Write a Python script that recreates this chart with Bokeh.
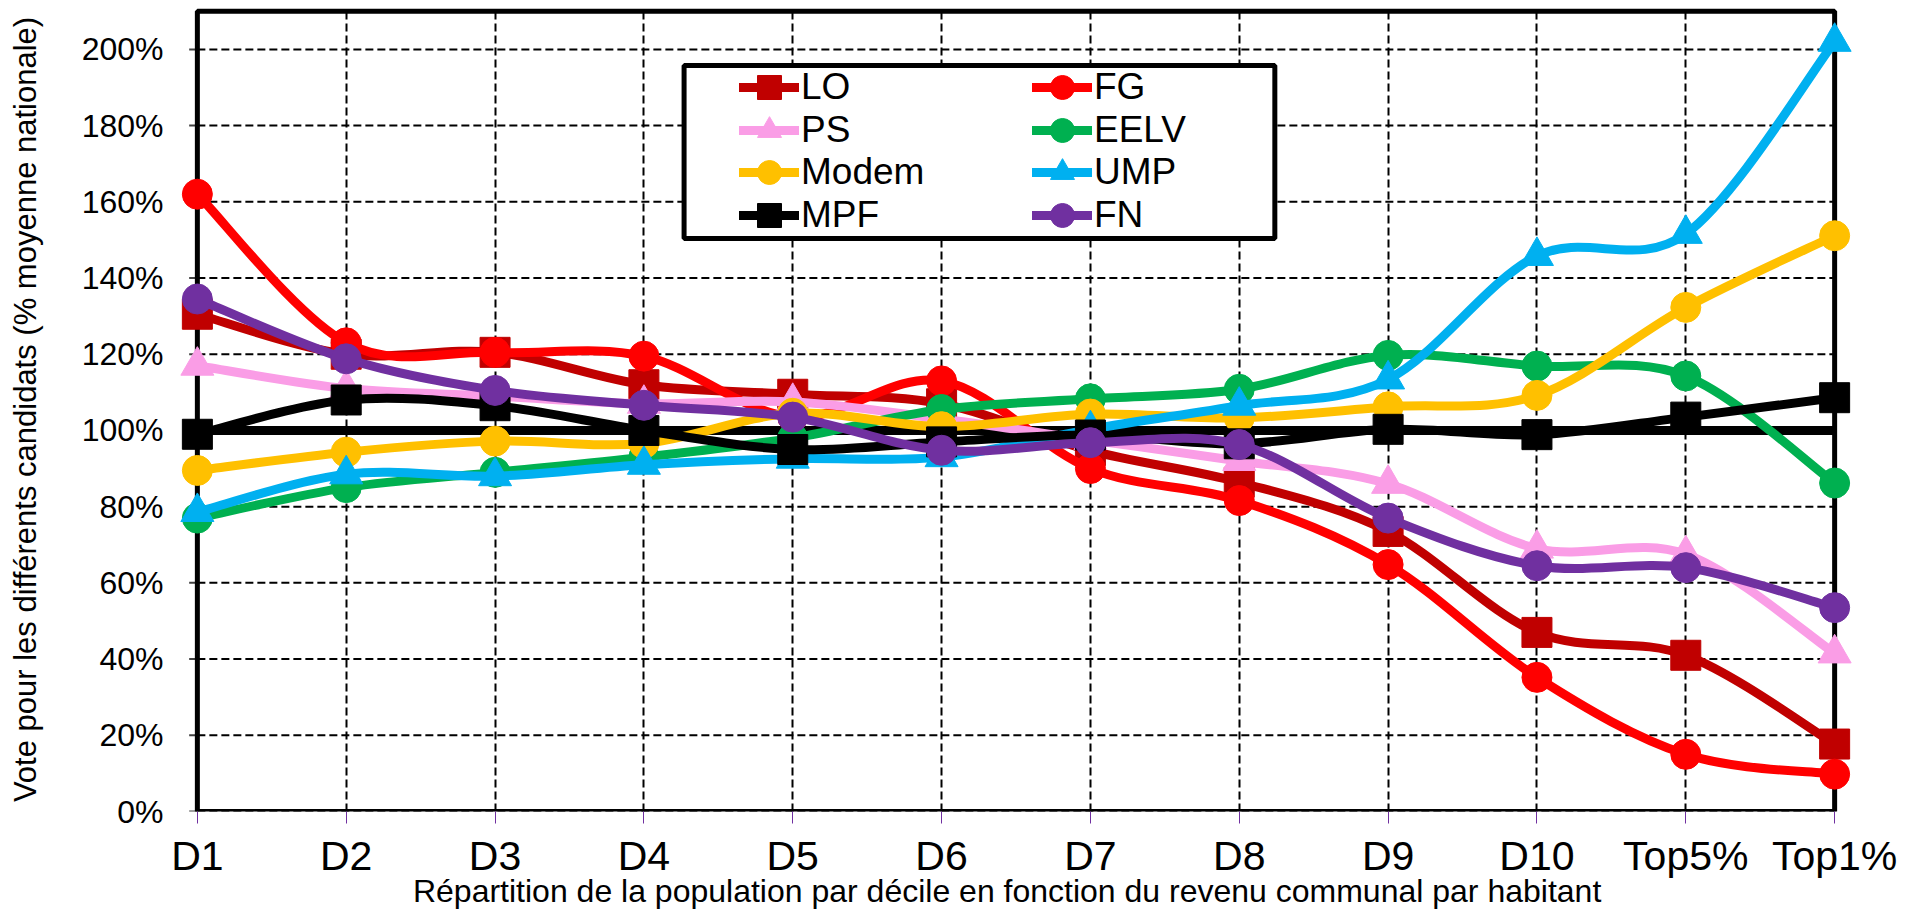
import math
from bokeh.plotting import figure
from bokeh.models import Range1d, FixedTicker, Legend, LegendItem, BoxAnnotation
from bokeh.embed import file_html
from bokeh.resources import INLINE

# ---------------- data ----------------
categories = ["D1", "D2", "D3", "D4", "D5", "D6", "D7", "D8", "D9", "D10", "Top5%", "Top1%"]
y_ticks = [0, 20, 40, 60, 80, 100, 120, 140, 160, 180, 200]
y_tick_labels = ["0%", "20%", "40%", "60%", "80%", "100%", "120%", "140%", "160%", "180%", "200%"]

national_average = [100, 100, 100, 100, 100, 100, 100, 100, 100, 100, 100, 100]
lo = [130.5, 120, 120.5, 112, 109.5, 107, 94.7, 86.4, 73.5, 47, 41, 17.7]
fg = [162, 123, 120.5, 119.5, 103.5, 113, 90, 81.6, 64.8, 35.2, 15, 9.8]
ps = [117, 111, 109, 107, 107.5, 103, 97.5, 92, 86, 69, 67.5, 41.5]
eelv = [77, 85, 89, 93, 98, 105.5, 108.3, 110.8, 119.7, 116.9, 114.3, 86.2]
modem = [89.5, 94.3, 97.2, 96.6, 104.5, 101, 104.3, 103.3, 106.2, 109.2, 132.3, 151.1]
ump = [78.6, 88.5, 88, 91, 92.6, 93, 100.3, 106.5, 113.4, 145.8, 151.6, 202]
mpf = [99, 108, 106.5, 100, 95, 97, 98.8, 96.5, 100.3, 98.9, 103.5, 108.6]
fn = [134.5, 118.8, 110.5, 106.6, 103.5, 94.8, 96.8, 96.3, 77, 64.5, 64, 53.5]

series_names = ["LO", "FG", "PS", "EELV", "Modem", "UMP", "MPF", "FN"]
series_values = [lo, fg, ps, eelv, modem, ump, mpf, fn]
series_colors = ["#C00000", "#FF0000", "#FA9DE6", "#00B050", "#FFC000", "#00B0F0", "#000000", "#7030A0"]
series_markers = ["square", "circle", "triangle", "circle", "circle", "triangle", "square", "circle"]

y_title = "Vote pour les différents candidats (% moyenne nationale)"
x_title = "Répartition de la population par décile en fonction du revenu communal par habitant"

FONT = "Liberation Sans"
NBSP = "\u00a0"
xs = list(range(len(categories)))


def smooth(xv, yv):
    """Bezier control points (Catmull-Rom style smoothing, like Excel's smoothed lines)."""
    n = len(xv)
    c = {k: [] for k in ("x0", "y0", "x1", "y1", "cx0", "cy0", "cx1", "cy1")}
    for i in range(n - 1):
        a = max(i - 1, 0)
        b = min(i + 2, n - 1)
        c["x0"].append(xv[i]); c["y0"].append(yv[i])
        c["x1"].append(xv[i + 1]); c["y1"].append(yv[i + 1])
        c["cx0"].append(xv[i] + (xv[i + 1] - xv[a]) / 6.0)
        c["cy0"].append(yv[i] + (yv[i + 1] - yv[a]) / 6.0)
        c["cx1"].append(xv[i + 1] - (xv[b] - xv[i]) / 6.0)
        c["cy1"].append(yv[i + 1] - (yv[b] - yv[i]) / 6.0)
    return c


# ---------------- figure ----------------
pad = 0.12
y_top = 211
p = figure(width=1915, height=913, title=None,
           x_range=Range1d(-pad, len(categories) - 1 + pad), y_range=Range1d(0, y_top),
           output_backend="svg", toolbar_location=None,
           min_border_left=179, min_border_right=63, min_border_top=7, min_border_bottom=102)
p.outline_line_color = None
p.background_fill_color = "white"
p.border_fill_color = "white"

# vertical grid from axis ticker
p.xgrid.grid_line_color = "black"
p.xgrid.grid_line_width = 2
p.xgrid.grid_line_dash = "8 4"
p.ygrid.grid_line_color = None

# horizontal grid lines between first and last category
n_y = len(y_ticks)
p.segment(x0=[xs[0]] * n_y, x1=[xs[-1]] * n_y, y0=y_ticks, y1=y_ticks,
          line_color="black", line_width=2, line_dash="8 4", level="underlay")
# small y tick marks left of the axis
p.segment(x0=[xs[0] - 0.055] * n_y, x1=[xs[0]] * n_y, y0=y_ticks, y1=y_ticks,
          line_color="#404040", line_width=2, level="underlay")

# frame border (axis lines)
p.add_layout(BoxAnnotation(left=xs[0], right=xs[-1], bottom=0, top=210,
                           fill_alpha=0, line_color="black", line_alpha=1, line_width=5,
                           level="underlay"))

# axes
p.xaxis.ticker = FixedTicker(ticks=xs)
p.xaxis.major_label_overrides = {i: c for i, c in enumerate(categories)}
p.xaxis.axis_line_color = None
p.xaxis.major_tick_out = 12
p.xaxis.major_tick_in = 0
p.xaxis.major_tick_line_color = "#7030A0"
p.xaxis.minor_tick_line_color = None
p.xaxis.major_label_standoff = 9
p.xaxis.major_label_text_font = FONT
p.xaxis.major_label_text_font_size = "41px"
p.xaxis.major_label_text_color = "black"
p.xaxis.axis_label = x_title + NBSP * 2
p.xaxis.axis_label_text_font = FONT
p.xaxis.axis_label_text_font_size = "32px"
p.xaxis.axis_label_text_font_style = "normal"
p.xaxis.axis_label_text_color = "black"
p.xaxis.axis_label_standoff = -9

p.yaxis.ticker = FixedTicker(ticks=y_ticks)
p.yaxis.major_label_overrides = {t: l for t, l in zip(y_ticks, y_tick_labels)}
p.yaxis.axis_line_color = None
p.yaxis.major_tick_out = 0
p.yaxis.major_tick_in = 0
p.yaxis.minor_tick_line_color = None
p.yaxis.major_label_standoff = 16
p.yaxis.major_label_text_font = FONT
p.yaxis.major_label_text_font_size = "32px"
p.yaxis.major_label_text_color = "black"
p.yaxis.axis_label = y_title
p.yaxis.axis_label_text_font = FONT
p.yaxis.axis_label_text_font_size = "31px"
p.yaxis.axis_label_text_font_style = "normal"
p.yaxis.axis_label_text_color = "black"
p.yaxis.axis_label_standoff = 36

# national average reference line
p.line(xs, national_average, line_color="black", line_width=9)

legend_items = []
for name, vals, col, mk in zip(series_names, series_values, series_colors, series_markers):
    p.bezier(line_color=col, line_width=9, line_cap="round", **smooth(xs, vals))
    sc = p.scatter(xs, vals, marker=mk, size=(33 if mk == "triangle" else 30),
                   fill_color=col, line_color=col, line_width=1)
    dummy = p.line(x=[float("nan")], y=[float("nan")], line_color=col, line_width=9, line_cap="round")
    legend_items.append(LegendItem(label=name, renderers=[dummy, sc]))

# legend box
p.add_layout(BoxAnnotation(left=3.270, right=7.239, bottom=150.4, top=195.8,
                           fill_color="white", fill_alpha=1, line_color="black", line_alpha=1,
                           line_width=5))

# one legend per entry: two columns x four rows
col_x = [560, 853]
row_y = [694, 651, 609, 566]
for k, item in enumerate(legend_items):
    leg = Legend(items=[item], location=(col_x[k % 2], row_y[k // 2]),
                 orientation="vertical", glyph_width=60, glyph_height=60, label_height=60,
                 label_width=20, spacing=0, padding=0, margin=0, border_line_color=None,
                 background_fill_alpha=0, label_text_font=FONT, label_text_font_size="37px",
                 label_standoff=2, label_text_color="black")
    p.add_layout(leg)

open("out.html", "w").write(file_html(p, INLINE))
